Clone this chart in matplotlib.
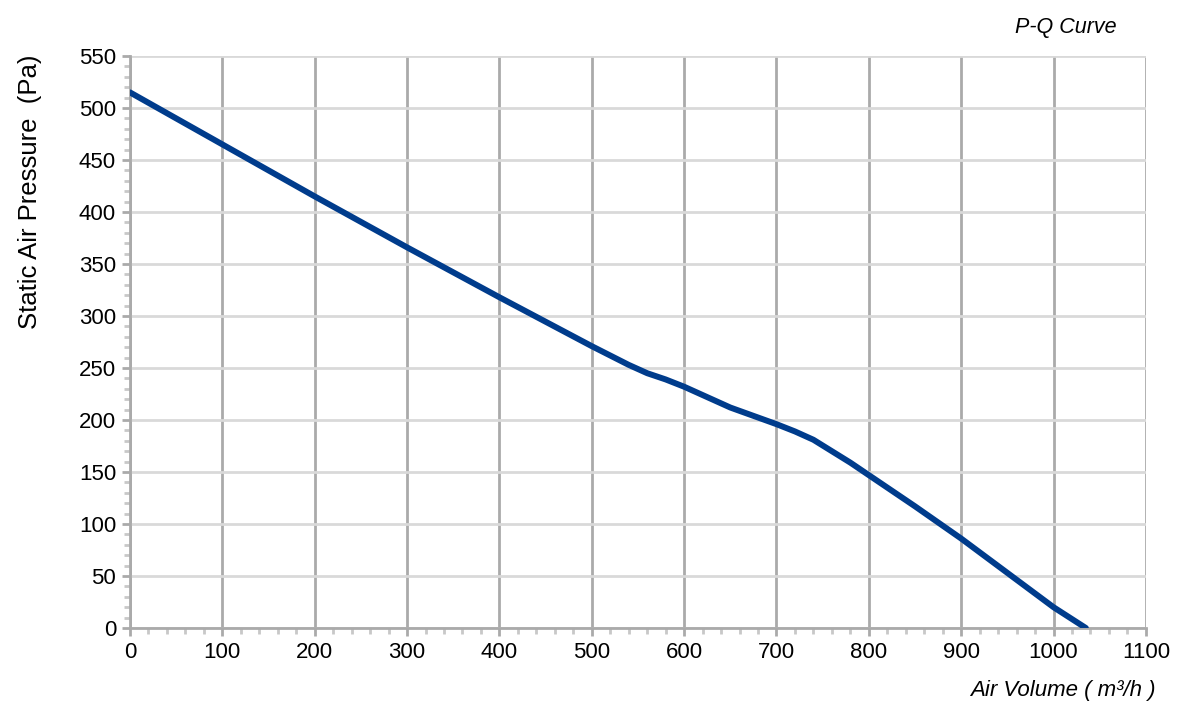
import numpy as np
from matplotlib import pyplot as plt
from matplotlib.ticker import MultipleLocator

# P-Q curve
air_volume = [0, 100, 200, 300, 400, 500, 520, 540, 560, 580, 600, 650, 700, 720, 740, 760, 780, 800, 830, 850, 900, 950, 1000, 1035]
pressure = [515, 465, 415, 366, 318, 271, 262, 253, 245, 239, 232, 212, 196, 189, 181, 170, 159, 147, 129, 117, 86, 53, 20, 0]

plt.rcParams['font.family'] = ['Liberation Sans', 'DejaVu Sans']

fig = plt.figure(figsize=(11.85, 7.16), dpi=100)
ax = fig.add_axes([0.1097, 0.1229, 0.8573, 0.7989])

ax.plot(air_volume, pressure, color="#003C8C", lw=4.3, solid_capstyle="round",
        solid_joinstyle="round", zorder=3)

ax.set_xlim(0, 1100)
ax.set_ylim(0, 550)
ax.xaxis.set_major_locator(MultipleLocator(100))
ax.xaxis.set_minor_locator(MultipleLocator(20))
ax.yaxis.set_major_locator(MultipleLocator(50))
ax.yaxis.set_minor_locator(MultipleLocator(10))

ax.grid(True, which="major", axis="x", color="#aaaaaa", lw=2.0)
ax.grid(True, which="major", axis="y", color="#d9d9d9", lw=2.0)
ax.set_axisbelow(True)

for s in ["top", "right"]:
    ax.spines[s].set_visible(False)
for s in ["left", "bottom"]:
    ax.spines[s].set_color("#aaaaaa")
    ax.spines[s].set_linewidth(2.0)

ax.tick_params(which="major", length=6, width=2, color="#aaaaaa", labelsize=16, pad=4)
ax.tick_params(which="minor", length=4, width=2, color="#c8c8c8")

# y label sits in the upper half, not centred on the axis
fig.text(0.0253, 0.7325, "Static Air Pressure  (Pa)", rotation=90, ha="center", va="center", fontsize=18.5)
fig.text(0.975, 0.036, "Air Volume ( m³/h )", ha="right", va="center", fontsize=16, style="italic")
fig.text(0.942, 0.962, "P-Q Curve", ha="right", va="center", fontsize=15.5, style="italic")

plt.savefig("out.png", dpi=100)
